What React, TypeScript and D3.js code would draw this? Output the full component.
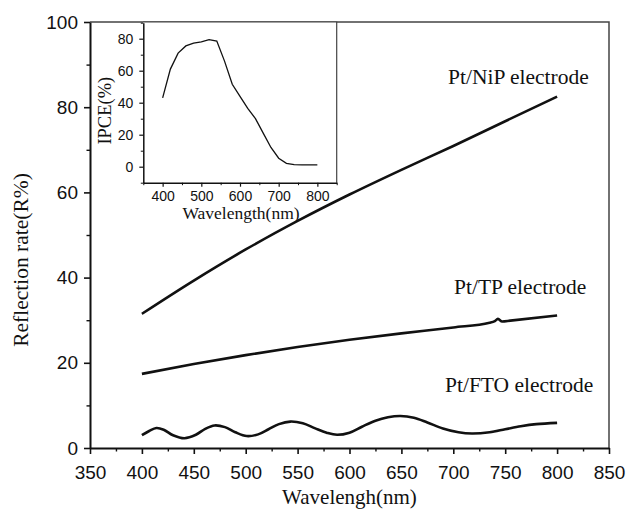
import { useEffect, useRef } from 'react'
import * as d3 from 'd3'

// Reflection spectra (main plot)
const nipWave = [400, 450, 500, 550, 600, 650, 700, 750, 800]
const nipRate = [31.5, 39.3, 46.6, 53.3, 59.5, 65.3, 70.9, 76.7, 82.5]

const tpWave = [400, 450, 500, 550, 600, 650, 700, 735, 740, 743, 747, 755, 800]
const tpRate = [17.4, 19.7, 21.8, 23.7, 25.4, 26.9, 28.3, 29.4, 29.8, 30.3, 29.7, 29.9, 31.1]

const ftoWave = [400, 407, 414, 421, 430, 441, 452, 461, 470, 480, 490, 501, 512, 522, 532, 543,
  555, 567, 578, 588, 600, 612, 625, 637, 649, 662, 675, 690, 705, 718, 735, 750, 765, 780, 800]
const ftoRate = [3.0, 4.0, 4.7, 4.3, 3.0, 2.3, 3.1, 4.5, 5.3, 4.9, 3.7, 2.8, 3.2, 4.4, 5.6, 6.2,
  5.8, 4.6, 3.6, 3.1, 3.6, 5.0, 6.4, 7.2, 7.5, 7.1, 6.0, 4.6, 3.7, 3.4, 3.7, 4.4, 5.1, 5.6, 5.9]

// IPCE (inset)
const ipceWave = [400, 420, 440, 460, 480, 500, 520, 540, 560, 580, 600, 620, 640, 660, 680, 700, 720, 740, 760, 780, 800]
const ipceVal = [43, 61, 71, 75.5, 77.3, 78, 79.4, 78.5, 66, 51.5, 44, 36.5, 30, 21, 12, 5.3, 2.1, 1.3, 1.2, 1.1, 1.2]

// Axis ticks
const xMajor = [350, 400, 450, 500, 550, 600, 650, 700, 750, 800, 850]
const xMinor = [375, 425, 475, 525, 575, 625, 675, 725, 775, 825]
const yMajor = [0, 20, 40, 60, 80, 100]
const yMinor = [10, 30, 50, 70, 90]
const inXMajor = [400, 500, 600, 700, 800]
const inXMinor = [350, 450, 550, 650, 750, 850]
const inYMajor = [0, 20, 40, 60, 80]
const inYMinor = [-10, 10, 30, 50, 70, 90]

const serif = '"Liberation Serif", "Times New Roman", serif'
const sans = '"Liberation Sans", Arial, sans-serif'

const App = () => {
  const svgRef = useRef(null)
  const W = 629
  const H = 511

  useEffect(() => {
    const svg = d3.select(svgRef.current)
    svg.selectAll('*').remove()
    svg.append('rect').attr('width', W).attr('height', H).attr('fill', '#fff')

    // main plot frame
    const left = 90, right = 609, top = 22, bottom = 448
    const x = d3.scaleLinear().domain([350, 850]).range([left, right])
    const y = d3.scaleLinear().domain([0, 100]).range([bottom, top])

    // top and right borders
    svg.append('path')
      .attr('d', `M${left},${top}H${right}V${bottom}`)
      .attr('fill', 'none').attr('stroke', '#444').attr('stroke-width', 1.5)

    const styleAxis = (g, size) => {
      g.select('.domain').attr('stroke', '#111').attr('stroke-width', 2)
      g.selectAll('line').attr('stroke', '#111').attr('stroke-width', 1.6)
      g.selectAll('text').style('font-family', sans).style('font-size', size).attr('fill', '#111')
    }

    // x axis
    const gx = svg.append('g').attr('transform', `translate(0,${bottom})`)
      .call(d3.axisBottom(x).tickValues(xMajor).tickSize(6).tickSizeOuter(0).tickPadding(12))
    styleAxis(gx, '19px')
    svg.append('g').attr('transform', `translate(0,${bottom})`)
      .call(d3.axisBottom(x).tickValues(xMinor).tickSize(3.5).tickFormat(() => ''))
      .call((g) => g.select('.domain').remove())
      .selectAll('line').attr('stroke', '#111').attr('stroke-width', 1.4)

    // y axis
    const gy = svg.append('g').attr('transform', `translate(${left},0)`)
      .call(d3.axisLeft(y).tickValues(yMajor).tickSize(6).tickSizeOuter(0).tickPadding(6))
    styleAxis(gy, '19px')
    svg.append('g').attr('transform', `translate(${left},0)`)
      .call(d3.axisLeft(y).tickValues(yMinor).tickSize(3.5).tickFormat(() => ''))
      .call((g) => g.select('.domain').remove())
      .selectAll('line').attr('stroke', '#111').attr('stroke-width', 1.4)

    // axis titles
    svg.append('text')
      .attr('x', (left + right) / 2).attr('y', 504)
      .attr('text-anchor', 'middle')
      .style('font-family', serif).style('font-size', '21px').attr('fill', '#111')
      .text('Wavelengh(nm)')
    svg.append('text')
      .attr('transform', `translate(28,${(top + bottom) / 2 + 25}) rotate(-90)`)
      .attr('text-anchor', 'middle')
      .style('font-family', serif).style('font-size', '21.5px').attr('fill', '#111')
      .text('Reflection rate(R%)')

    // spectra
    const series = [
      { w: nipWave, v: nipRate, c: d3.curveMonotoneX },
      { w: tpWave, v: tpRate, c: d3.curveMonotoneX },
      { w: ftoWave, v: ftoRate, c: d3.curveCatmullRom },
    ]
    series.forEach((s) => {
      const line = d3.line()
        .x((d) => x(d[0]))
        .y((d) => y(d[1]))
        .curve(s.c)
      svg.append('path')
        .attr('d', line(s.w.map((w, i) => [w, s.v[i]])))
        .attr('fill', 'none').attr('stroke', '#111').attr('stroke-width', 2.6)
        .attr('stroke-linejoin', 'round')
    })

    // curve labels
    const labels = [
      { t: 'Pt/NiP electrode', x: 448, y: 84 },
      { t: 'Pt/TP electrode', x: 454, y: 294 },
      { t: 'Pt/FTO electrode', x: 445, y: 392 },
    ]
    labels.forEach((l) => {
      svg.append('text').attr('x', l.x).attr('y', l.y)
        .style('font-family', serif).style('font-size', '21.5px').attr('fill', '#111')
        .text(l.t)
    })

    // inset
    const iL = 143.3, iR = 336.7, iT = 22, iB = 182.7
    const ix = d3.scaleLinear().domain([350, 850]).range([iL, iR])
    const iy = d3.scaleLinear().domain([-10, 90]).range([iB, iT + 0.7])
    svg.append('rect').attr('x', iL).attr('y', iT).attr('width', iR - iL).attr('height', iB - iT).attr('fill', '#fff')
    svg.append('path')
      .attr('d', `M${iL},${iT}H${iR}V${iB}`)
      .attr('fill', 'none').attr('stroke', '#444').attr('stroke-width', 1.2)

    const styleInset = (g) => {
      g.select('.domain').attr('stroke', '#111').attr('stroke-width', 1.5)
      g.selectAll('line').attr('stroke', '#111').attr('stroke-width', 1.2)
      g.selectAll('text').style('font-family', sans).style('font-size', '14px').attr('fill', '#111')
    }
    const igx = svg.append('g').attr('transform', `translate(0,${iB})`)
      .call(d3.axisBottom(ix).tickValues(inXMajor).tickSize(4).tickSizeOuter(0).tickPadding(4))
    styleInset(igx)
    svg.append('g').attr('transform', `translate(0,${iB})`)
      .call(d3.axisBottom(ix).tickValues(inXMinor).tickSize(2.5).tickFormat(() => ''))
      .call((g) => g.select('.domain').remove())
      .selectAll('line').attr('stroke', '#111').attr('stroke-width', 1)
    const igy = svg.append('g').attr('transform', `translate(${iL},0)`)
      .call(d3.axisLeft(iy).tickValues(inYMajor).tickSize(4).tickSizeOuter(0).tickPadding(6))
    styleInset(igy)
    svg.append('g').attr('transform', `translate(${iL},0)`)
      .call(d3.axisLeft(iy).tickValues(inYMinor).tickSize(2.5).tickFormat(() => ''))
      .call((g) => g.select('.domain').remove())
      .selectAll('line').attr('stroke', '#111').attr('stroke-width', 1)

    svg.append('text')
      .attr('x', (iL + iR) / 2 + 1).attr('y', 218.5)
      .attr('text-anchor', 'middle')
      .style('font-family', serif).style('font-size', '17.5px').attr('fill', '#111')
      .text('Wavelength(nm)')
    svg.append('text')
      .attr('transform', `translate(111,${iy(35)}) rotate(-90)`)
      .attr('text-anchor', 'middle')
      .style('font-family', serif).style('font-size', '18.5px').attr('fill', '#111')
      .text('IPCE(%)')

    const iline = d3.line()
      .x((d) => ix(d[0]))
      .y((d) => iy(d[1]))
    svg.append('path')
      .attr('d', iline(ipceWave.map((w, i) => [w, ipceVal[i]])))
      .attr('fill', 'none').attr('stroke', '#111').attr('stroke-width', 1.3)
  }, [])

  return (
    <svg
      ref={svgRef}
      width={W}
      height={H}
      style={{ position: 'absolute', left: 0, top: 0, display: 'block' }}
    />
  )
}

export default App
